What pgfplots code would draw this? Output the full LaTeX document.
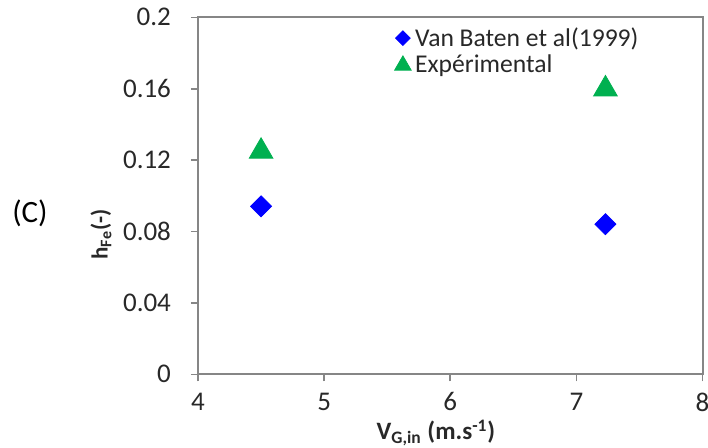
\documentclass[border=0pt]{standalone}
\usepackage{pgfplots}
\pgfplotsset{compat=1.18}
\usepackage{fontspec}
\setmainfont{Carlito}
\definecolor{axgray}{RGB}{134,134,134}
\definecolor{txt}{RGB}{40,40,40}
\definecolor{mblue}{RGB}{0,0,255}
\definecolor{mgreen}{RGB}{0,176,80}
\begin{document}
\begin{tikzpicture}
\useasboundingbox (-99pt,-36.35pt) rectangle (255pt,187.15pt);
\begin{axis}[
  at={(0,0)}, anchor=south west,
  scale only axis, width=252.3pt, height=178.5pt,
  xmin=4, xmax=8, ymin=0, ymax=0.2,
  xtick={4,5,6,7,8}, ytick={0,0.04,0.08,0.12,0.16,0.2},
  xtick pos=lower, ytick pos=left,
  tick align=outside, major tick length=3.5pt,
  axis line style={axgray, line width=1pt},
  tick style={axgray, line width=0.8pt},
  ticklabel style={font=\fontsize{13.5}{15}\selectfont, text=txt},
  /pgf/number format/assume math mode=true,
  yticklabel style={/pgf/number format/fixed, /pgf/number format/precision=2},
  xticklabel style={yshift=-4.5pt, inner sep=1pt},
  yticklabel style={xshift=-6.5pt},
  legend style={at={(axis description cs:0.385,0.99)}, anchor=north west,
    draw=none, fill=none, font=\fontsize{12.8}{14}\selectfont, text=txt,
    row sep=-1pt, inner sep=1pt},
  legend cell align=left,
  legend image post style={scale=0.7},
]
\addplot[only marks, mark=square*, mark size=3.7pt, mark options={rotate=45, draw=mblue, fill=mblue}]
  coordinates {(4.5,0.0941) (7.23,0.0841)};
\addlegendentry{Van Baten et al(1999)}
\addplot[only marks, mark=triangle*, mark size=6.8pt, mark options={draw=mgreen, fill=mgreen}]
  coordinates {(4.5,0.1249) (7.23,0.1598)};
\addlegendentry{Expérimental}
\end{axis}
\node[font=\fontsize{12.5}{13}\selectfont\bfseries, text=txt, inner sep=0pt] at (119pt,-29.3pt) {V\textsubscript{G,in} (m.s\textsuperscript{-1})};
\node[font=\fontsize{11.5}{12}\selectfont\bfseries, text=txt, rotate=90] at (-48.5pt,69.9pt) {h\textsubscript{Fe}(-)};
\node[font=\fontsize{15.5}{17}\selectfont] at (-84pt,80.6pt) {(C)};
\end{tikzpicture}
\end{document}
